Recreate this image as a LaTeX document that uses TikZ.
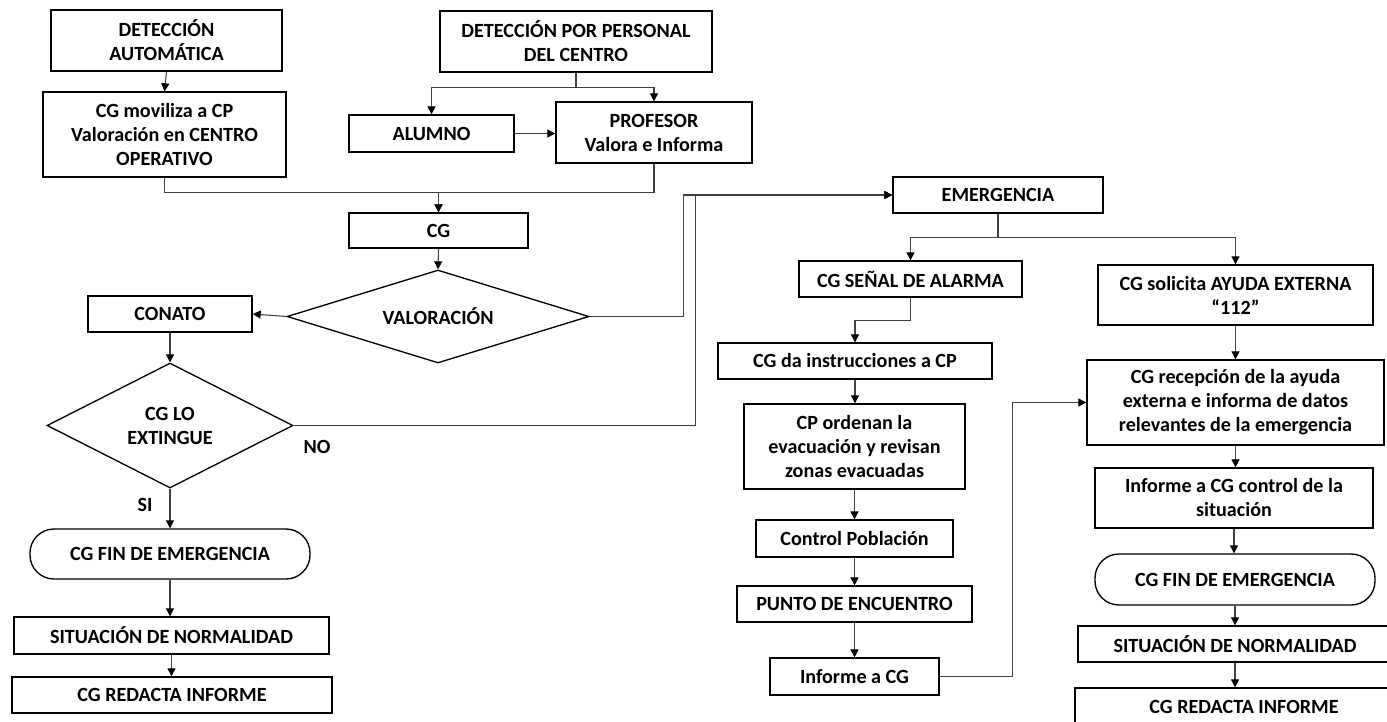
\documentclass[tikz,border=0pt]{standalone}
\usepackage{fontspec}
\setmainfont{Carlito}
\usetikzlibrary{shapes.geometric,arrows.meta}
\newcommand\bx[7][box]{\node[#1, minimum width={(#5-#3)*0.75pt}, minimum height={(#6-#4)*0.75pt}] (#2) at ({(#3+#5)/2},{(#4+#6)/2}) {#7};}
\begin{document}
\begin{tikzpicture}[x=0.75pt,y=-0.75pt,
  box/.style={draw=black, line width=1pt, rectangle, inner sep=0pt, align=center,
    font=\bfseries\fontsize{15.1}{18}\selectfont},
  term/.style={box, rounded corners=18pt},
  dia/.style={box, diamond},
  lbl/.style={inner sep=0pt, font=\bfseries\fontsize{15.1}{18}\selectfont},
  conn/.style={draw=black!75, line width=0.8pt, -{Triangle[length=6pt,width=6pt,color=black]}},
  plain/.style={draw=black!75, line width=0.8pt}]
\clip (0,0) rectangle (1387,721);
\fill[white] (0,0) rectangle (1387,721);
% left column
\bx{auto}{51}{10}{282}{71}{DETECCIÓN\\AUTOMÁTICA}
\bx{movil}{43}{92}{286}{177}{CG moviliza a CP\\Valoración en CENTRO\\OPERATIVO}
\bx{detp}{440}{11}{712}{72}{DETECCIÓN POR PERSONAL\\DEL CENTRO}
\bx{alumno}{349}{115}{514}{152}{ALUMNO}
\bx{prof}{556}{102}{752}{163}{PROFESOR\\Valora e Informa}
\bx{cg}{349}{213}{528}{248}{CG}
\bx[dia,aspect=3.2]{val}{287}{270}{589}{363}{VALORACIÓN}
\bx{conato}{88}{296}{252}{332}{CONATO}
\bx[dia,aspect=2]{ext}{47}{363}{293}{488}{CG LO\\EXTINGUE}
\bx[term]{fin1}{30}{529}{310}{579}{CG FIN DE EMERGENCIA}
\bx{sit1}{14}{617}{329}{654}{SITUACIÓN DE NORMALIDAD}
\bx{red1}{12}{677}{332}{713}{CG REDACTA INFORME}
\node[lbl] (si) at (145,505) {SI};
\node[lbl] (no) at (317,447) {NO};
% middle column
\bx{emerg}{893}{177}{1103}{213}{EMERGENCIA}
\bx{senal}{799}{261}{1022}{297}{CG SEÑAL DE ALARMA}
\bx{cgda}{718}{343}{992}{379}{CG da instrucciones a CP}
\bx{cpord}{744}{404}{965}{489}{CP ordenan la\\evacuación y revisan\\zonas evacuadas}
\bx{control}{756}{520}{953}{557}{Control Población}
\bx{punto}{737}{586}{972}{622}{PUNTO DE ENCUENTRO}
\bx{inf}{770}{658}{939}{695}{Informe a CG}
% right column
\bx{solic}{1098}{265}{1373}{325}{CG solicita AYUDA EXTERNA\\“112”}
\bx{recep}{1087}{360}{1384}{445}{CG recepción de la ayuda\\externa e informa de datos\\relevantes de la emergencia}
\bx{infc}{1095}{468}{1373}{528}{Informe a CG control de la\\situación}
\bx[term]{fin2}{1095}{554}{1375}{605}{CG FIN DE EMERGENCIA}
\bx{sit2}{1078}{626}{1392}{662}{SITUACIÓN DE NORMALIDAD}
\bx{red2}{1075}{688}{1413}{726}{CG REDACTA INFORME}
% connectors
\draw[conn] (auto.south) -- (movil.north);
\draw[conn] (movil.south) -- ++(0,15) -| (cg.north);
\draw[conn] (prof.south) -- ++(0,29) -| (cg.north);
\draw[conn] (detp.south) -- ++(0,15) -| (alumno.north);
\draw[conn] (detp.south) -- ++(0,15) -| (prof.north);
\draw[conn] (alumno.east) -- (alumno.east -| prof.west);
\draw[conn] (cg.south) -- (val.north);
\draw[conn] (val.west) -- (conato.east);
\draw[conn] (val.east) -- ++(94,0) |- (emerg.west);
\draw[conn] (ext.east) -- ++(402,0) |- (emerg.west);
\draw[conn] (conato.south) -- (ext.north);
\draw[conn] (ext.south) -- (fin1.north);
\draw[conn] (fin1.south) -- (fin1.south |- sit1.north);
\draw[conn] (sit1.south) -- (sit1.south |- red1.north);
\draw[conn] (emerg.south) -- ++(0,24) -| (senal.north);
\draw[conn] (emerg.south) -- ++(0,24) -| (solic.north);
\draw[conn] (senal.south) -- ++(0,23) -| (cgda.north);
\draw[conn] (cgda.south) -- (cgda.south |- cpord.north);
\draw[conn] (cpord.south) -- (cpord.south |- control.north);
\draw[conn] (control.south) -- (control.south |- punto.north);
\draw[conn] (punto.south) -- (punto.south |- inf.north);
\draw[conn] (inf.east) -- ++(73,0) |- (recep.west);
\draw[conn] (solic.south) -- (solic.south |- recep.north);
\draw[conn] (recep.south) -- (recep.south |- infc.north);
\draw[conn] (infc.south) -- (infc.south |- fin2.north);
\draw[conn] (fin2.south) -- (fin2.south |- sit2.north);
\draw[conn] (fin2.south |- sit2.south) -- (fin2.south |- red2.north);
\end{tikzpicture}
\end{document}
